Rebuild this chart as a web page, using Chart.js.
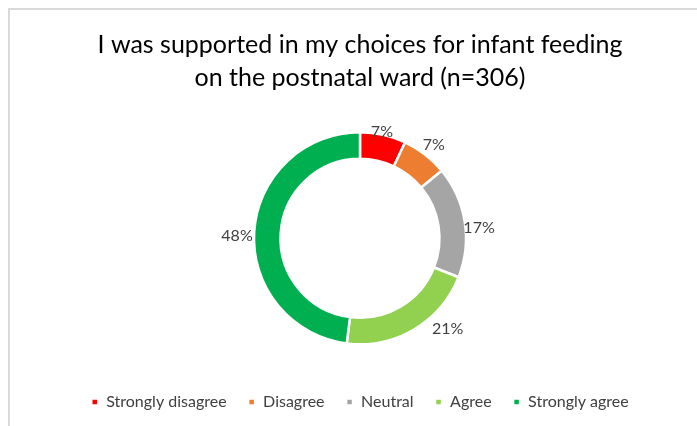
<!DOCTYPE html>
<html>
<head>
<meta charset="utf-8">
<script src="https://cdn.jsdelivr.net/npm/chart.js@4"></script>
<style>
  html, body { margin: 0; padding: 0; background: #fff; overflow: hidden; }
  .frame {
    position: absolute; left: 8px; top: 8px; width: 720px; height: 440px;
    border: 1px solid #d9d9d9; border-width: 2px 0 0 2px;
  }
  #wrap { position: absolute; left: 0; top: 0; width: 697px; height: 426px; }
</style>
</head>
<body>
<div class="frame"></div>
<div id="wrap"><canvas id="chart"></canvas></div>
<script>
/* Infant feeding support survey – doughnut */

const categories = ['Strongly disagree', 'Disagree', 'Neutral', 'Agree', 'Strongly agree'];
const shares = [7, 7, 17, 21, 48];
const sliceColors = ['#FF0000', '#ED7D31', '#A5A5A5', '#92D050', '#00B050'];
const titleLines = ['I was supported in my choices for infant feeding', 'on the postnatal ward (n=306)'];

const FONT = 'Lato, "Open Sans", sans-serif';

// percentage labels just outside each slice; small per-slice nudges keep
// the labels clear of the ring and of each other
const outsideLabels = {
    id: 'outsideLabels',
    afterDatasetsDraw(chart, args, opts) {
        const ctx = chart.ctx;
        const meta = chart.getDatasetMeta(0);
        ctx.save();
        ctx.font = opts.size + 'px ' + FONT;
        ctx.fillStyle = opts.color;
        ctx.textAlign = 'center';
        ctx.textBaseline = 'middle';
        meta.data.forEach((arc, i) => {
            const { x, y, startAngle, endAngle, outerRadius } = arc.getProps(
                ['x', 'y', 'startAngle', 'endAngle', 'outerRadius'], true);
            const mid = (startAngle + endAngle) / 2 + (opts.turn[i] || 0) * Math.PI / 180;
            const r = outerRadius + (opts.gap[i] || 0);
            ctx.fillText(shares[i] + '%', x + Math.cos(mid) * r, y + Math.sin(mid) * r);
        });
        ctx.restore();
    }
};

new Chart(document.getElementById('chart'), {
    type: 'doughnut',
    data: {
        labels: categories,
        datasets: [{
            data: shares,
            backgroundColor: sliceColors,
            borderColor: '#ffffff',
            borderWidth: 2.5,
            radius: 106,
            cutout: '75%',
        }],
    },
    options: {
        responsive: true,
        maintainAspectRatio: false,
        animation: false,
        layout: { padding: { left: 23, right: 0, top: 0, bottom: 6 } },
        plugins: {
            title: {
                display: true,
                text: titleLines,
                color: '#000000',
                font: { family: FONT, size: 25, weight: 'normal', lineHeight: 1.3 },
                padding: { top: 29, bottom: 10 },
            },
            legend: {
                position: 'bottom',
                labels: {
                    color: '#404040',
                    font: { family: FONT, size: 16 },
                    boxWidth: 7,
                    boxHeight: 7,
                    padding: 21.5,
                },
            },
            outsideLabels: {
                size: 16,
                color: '#404040',
                turn: [-1, 0.5, 4, -13.5, -2.5],
                gap: [3, 13, 13.5, 20, 17],
            },
            tooltip: { enabled: false },
        },
    },
    plugins: [outsideLabels],
});
</script>
</body>
</html>
